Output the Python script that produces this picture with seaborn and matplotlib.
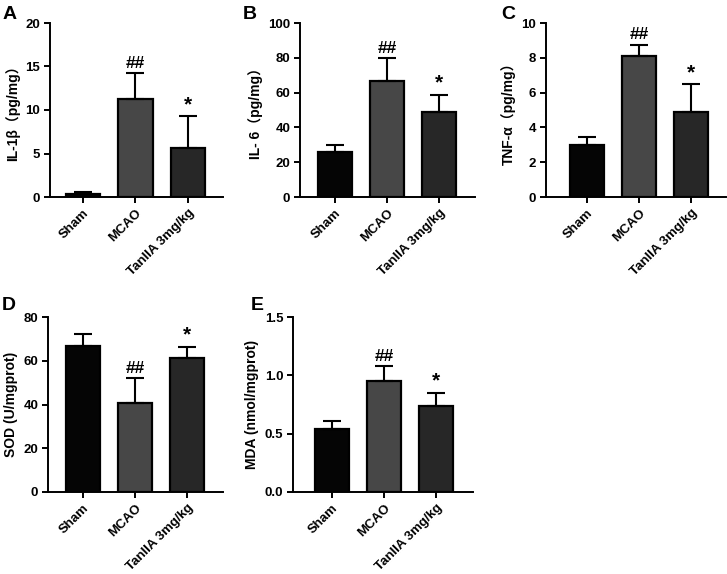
import pandas as pd
import matplotlib
matplotlib.use("Agg")
import matplotlib.pyplot as plt
import seaborn as sns

groups = ["Sham", "MCAO", "TanIIA 3mg/kg"]
bar_colors = ["#050505", "#474747", "#272727"]

il1b_mean = [0.3, 11.3, 5.6]
il1b_sd = [0.3, 3.0, 3.7]
il6_mean = [25.6, 66.8, 48.9]
il6_sd = [4.2, 13.0, 9.9]
tnf_mean = [3.0, 8.13, 4.87]
tnf_sd = [0.42, 0.63, 1.62]
sod_mean = [66.9, 40.9, 61.4]
sod_sd = [5.5, 11.1, 4.9]
mda_mean = [0.543, 0.951, 0.734]
mda_sd = [0.066, 0.132, 0.115]

marks = ["", "##", "*"]

W, H = 727, 574

sns.set_theme(style="ticks")
plt.rcParams["font.family"] = ["Liberation Sans", "Noto Sans CJK SC", "DejaVu Sans"]
plt.rcParams["font.weight"] = "bold"
plt.rcParams["text.color"] = "black"
plt.rcParams["axes.labelcolor"] = "black"
plt.rcParams["xtick.color"] = "black"
plt.rcParams["ytick.color"] = "black"

fig = plt.figure(figsize=(W / 100, H / 100), dpi=100)

panels = [
    # letter, letter pos (px), ylabel, means, sds, ymax, ystep, fmt, axes box (px), xlim
    ("A", (3, 6), "IL-1β（pg/mg）", il1b_mean, il1b_sd, 20, 5, "{:.0f}",
     (50, 23, 223, 197), (-0.63, 2.67)),
    ("B", (243, 6), "IL- 6（pg/mg）", il6_mean, il6_sd, 100, 20, "{:.0f}",
     (300, 23, 475, 197), (-0.67, 2.69)),
    ("C", (501, 6), "TNF-α（pg/mg）", tnf_mean, tnf_sd, 10, 2, "{:.0f}",
     (546, 23, 726, 197), (-0.79, 2.67)),
    ("D", (2, 297), "SOD (U/mgprot)", sod_mean, sod_sd, 80, 20, "{:.0f}",
     (48, 317, 223, 492), (-0.67, 2.69)),
    ("E", (251, 297), "MDA (nmol/mgprot)", mda_mean, mda_sd, 1.5, 0.5, "{:.1f}",
     (293, 317, 473, 492), (-0.75, 2.71)),
]

for letter, lpos, ylabel, means, sds, ymax, ystep, fmt, box, xlim in panels:
    x0, y0, x1, y1 = box
    ax = fig.add_axes([x0 / W, 1 - y1 / H, (x1 - x0) / W, (y1 - y0) / H])
    df = pd.DataFrame({"group": groups, "value": means})
    sns.barplot(data=df, x="group", y="value", hue="group", palette=bar_colors,
                errorbar=None, width=0.66, edgecolor="black", linewidth=1.6,
                legend=False, ax=ax)
    ax.errorbar(range(len(groups)), means, yerr=[[0] * len(sds), sds], fmt="none",
                ecolor="black", elinewidth=1.5, capsize=6.5, capthick=1.5, zorder=1)
    for i, m in enumerate(marks):
        if m:
            ax.annotate(m, (i, means[i] + sds[i]), xytext=(0, 1.5), textcoords="offset points",
                        ha="center", va="bottom", fontsize=15 if m == "*" else 12.5,
                        fontweight="bold", color="black")
    n = int(round(ymax / ystep))
    ticks = [ystep * k for k in range(n + 1)]
    ax.set_yticks(ticks)
    ax.set_yticklabels([fmt.format(t) for t in ticks], fontsize=9.5, fontweight="bold")
    ax.set_ylim(0, ymax)
    ax.set_xlim(*xlim)
    ax.set_xticks(range(len(groups)))
    ax.set_xticklabels(groups, rotation=45, ha="right", rotation_mode="anchor",
                       fontsize=9.5, fontweight="bold")
    ax.set_xlabel("")
    ax.set_ylabel(ylabel, fontsize=10, fontweight="bold", labelpad=4)
    sns.despine(ax=ax)
    for s in ["left", "bottom"]:
        ax.spines[s].set_linewidth(1.4)
        ax.spines[s].set_color("black")
    ax.tick_params(axis="both", width=1.4, length=4.5, color="black", pad=2.5)
    fig.text(lpos[0] / W, 1 - lpos[1] / H, letter, fontsize=14,
             fontweight="bold", ha="left", va="top", color="black")

fig.savefig("out.png", dpi=100)
